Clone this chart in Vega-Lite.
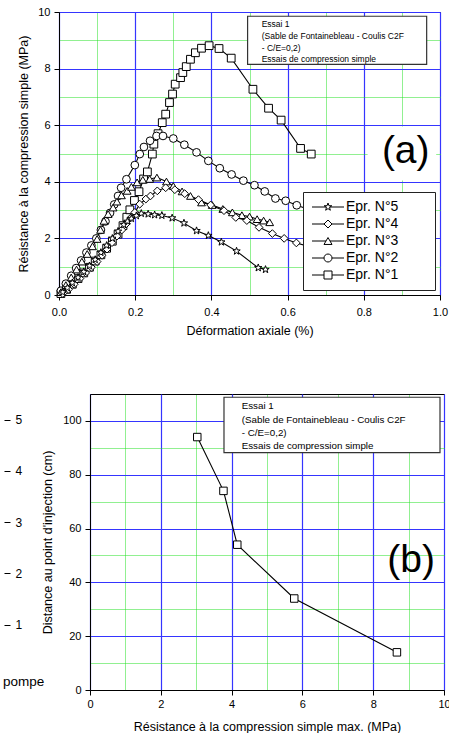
{
  "$schema": "https://vega.github.io/schema/vega-lite/v6.json",
  "background": "white",
  "padding": {"left": 0, "top": 5, "right": 0, "bottom": 0},
  "config": {
    "font": "Liberation Sans",
    "view": {"stroke": "black", "strokeWidth": 1},
    "axis": {
      "labelFont": "Liberation Sans", "titleFont": "Liberation Sans",
      "labelFontSize": 11, "titleFontSize": 12.5, "titleFontWeight": "normal",
      "labelColor": "black", "titleColor": "black", "domainColor": "black", "tickColor": "black",
      "labelFlush": false, "labelOverlap": false
    }
  },
  "datasets": {
    "courbes": [
      {"eprouvette": "Epr. N°1", "deformation": 0.005, "resistance": 0.05},
      {"eprouvette": "Epr. N°1", "deformation": 0.02, "resistance": 0.2},
      {"eprouvette": "Epr. N°1", "deformation": 0.035, "resistance": 0.38},
      {"eprouvette": "Epr. N°1", "deformation": 0.05, "resistance": 0.58},
      {"eprouvette": "Epr. N°1", "deformation": 0.065, "resistance": 0.78},
      {"eprouvette": "Epr. N°1", "deformation": 0.08, "resistance": 0.98},
      {"eprouvette": "Epr. N°1", "deformation": 0.095, "resistance": 1.2},
      {"eprouvette": "Epr. N°1", "deformation": 0.11, "resistance": 1.42},
      {"eprouvette": "Epr. N°1", "deformation": 0.125, "resistance": 1.65},
      {"eprouvette": "Epr. N°1", "deformation": 0.14, "resistance": 1.9},
      {"eprouvette": "Epr. N°1", "deformation": 0.155, "resistance": 2.15},
      {"eprouvette": "Epr. N°1", "deformation": 0.168, "resistance": 2.45},
      {"eprouvette": "Epr. N°1", "deformation": 0.178, "resistance": 2.75},
      {"eprouvette": "Epr. N°1", "deformation": 0.186, "resistance": 3.01},
      {"eprouvette": "Epr. N°1", "deformation": 0.198, "resistance": 3.34},
      {"eprouvette": "Epr. N°1", "deformation": 0.21, "resistance": 3.65},
      {"eprouvette": "Epr. N°1", "deformation": 0.222, "resistance": 4.1},
      {"eprouvette": "Epr. N°1", "deformation": 0.232, "resistance": 4.35},
      {"eprouvette": "Epr. N°1", "deformation": 0.245, "resistance": 4.98},
      {"eprouvette": "Epr. N°1", "deformation": 0.249, "resistance": 5.33},
      {"eprouvette": "Epr. N°1", "deformation": 0.26, "resistance": 5.7},
      {"eprouvette": "Epr. N°1", "deformation": 0.271, "resistance": 6.09},
      {"eprouvette": "Epr. N°1", "deformation": 0.28, "resistance": 6.39},
      {"eprouvette": "Epr. N°1", "deformation": 0.29, "resistance": 6.8},
      {"eprouvette": "Epr. N°1", "deformation": 0.298, "resistance": 7.1},
      {"eprouvette": "Epr. N°1", "deformation": 0.305, "resistance": 7.45},
      {"eprouvette": "Epr. N°1", "deformation": 0.319, "resistance": 7.68},
      {"eprouvette": "Epr. N°1", "deformation": 0.325, "resistance": 7.86},
      {"eprouvette": "Epr. N°1", "deformation": 0.334, "resistance": 8.07},
      {"eprouvette": "Epr. N°1", "deformation": 0.345, "resistance": 8.33},
      {"eprouvette": "Epr. N°1", "deformation": 0.358, "resistance": 8.56},
      {"eprouvette": "Epr. N°1", "deformation": 0.374, "resistance": 8.72},
      {"eprouvette": "Epr. N°1", "deformation": 0.394, "resistance": 8.81},
      {"eprouvette": "Epr. N°1", "deformation": 0.42, "resistance": 8.71},
      {"eprouvette": "Epr. N°1", "deformation": 0.452, "resistance": 8.37},
      {"eprouvette": "Epr. N°1", "deformation": 0.509, "resistance": 7.27},
      {"eprouvette": "Epr. N°1", "deformation": 0.55, "resistance": 6.6},
      {"eprouvette": "Epr. N°1", "deformation": 0.583, "resistance": 6.18},
      {"eprouvette": "Epr. N°1", "deformation": 0.634, "resistance": 5.18},
      {"eprouvette": "Epr. N°1", "deformation": 0.662, "resistance": 4.98},
      {"eprouvette": "Epr. N°2", "deformation": 0.005, "resistance": 0.15},
      {"eprouvette": "Epr. N°2", "deformation": 0.018, "resistance": 0.4},
      {"eprouvette": "Epr. N°2", "deformation": 0.032, "resistance": 0.68},
      {"eprouvette": "Epr. N°2", "deformation": 0.045, "resistance": 0.95},
      {"eprouvette": "Epr. N°2", "deformation": 0.058, "resistance": 1.22},
      {"eprouvette": "Epr. N°2", "deformation": 0.072, "resistance": 1.5},
      {"eprouvette": "Epr. N°2", "deformation": 0.085, "resistance": 1.75},
      {"eprouvette": "Epr. N°2", "deformation": 0.098, "resistance": 2.0},
      {"eprouvette": "Epr. N°2", "deformation": 0.11, "resistance": 2.3},
      {"eprouvette": "Epr. N°2", "deformation": 0.122, "resistance": 2.6},
      {"eprouvette": "Epr. N°2", "deformation": 0.134, "resistance": 2.9},
      {"eprouvette": "Epr. N°2", "deformation": 0.145, "resistance": 3.2},
      {"eprouvette": "Epr. N°2", "deformation": 0.155, "resistance": 3.5},
      {"eprouvette": "Epr. N°2", "deformation": 0.163, "resistance": 3.79},
      {"eprouvette": "Epr. N°2", "deformation": 0.177, "resistance": 4.09},
      {"eprouvette": "Epr. N°2", "deformation": 0.199, "resistance": 4.59},
      {"eprouvette": "Epr. N°2", "deformation": 0.212, "resistance": 4.98},
      {"eprouvette": "Epr. N°2", "deformation": 0.223, "resistance": 5.23},
      {"eprouvette": "Epr. N°2", "deformation": 0.239, "resistance": 5.45},
      {"eprouvette": "Epr. N°2", "deformation": 0.256, "resistance": 5.62},
      {"eprouvette": "Epr. N°2", "deformation": 0.273, "resistance": 5.62},
      {"eprouvette": "Epr. N°2", "deformation": 0.3, "resistance": 5.53},
      {"eprouvette": "Epr. N°2", "deformation": 0.329, "resistance": 5.31},
      {"eprouvette": "Epr. N°2", "deformation": 0.361, "resistance": 5.04},
      {"eprouvette": "Epr. N°2", "deformation": 0.392, "resistance": 4.74},
      {"eprouvette": "Epr. N°2", "deformation": 0.422, "resistance": 4.48},
      {"eprouvette": "Epr. N°2", "deformation": 0.453, "resistance": 4.26},
      {"eprouvette": "Epr. N°2", "deformation": 0.484, "resistance": 4.04},
      {"eprouvette": "Epr. N°2", "deformation": 0.513, "resistance": 3.88},
      {"eprouvette": "Epr. N°2", "deformation": 0.54, "resistance": 3.66},
      {"eprouvette": "Epr. N°2", "deformation": 0.568, "resistance": 3.41},
      {"eprouvette": "Epr. N°2", "deformation": 0.595, "resistance": 3.33},
      {"eprouvette": "Epr. N°2", "deformation": 0.624, "resistance": 3.17},
      {"eprouvette": "Epr. N°2", "deformation": 0.66, "resistance": 3.0},
      {"eprouvette": "Epr. N°3", "deformation": 0.005, "resistance": 0.1},
      {"eprouvette": "Epr. N°3", "deformation": 0.018, "resistance": 0.35},
      {"eprouvette": "Epr. N°3", "deformation": 0.032, "resistance": 0.62},
      {"eprouvette": "Epr. N°3", "deformation": 0.046, "resistance": 0.9},
      {"eprouvette": "Epr. N°3", "deformation": 0.06, "resistance": 1.18},
      {"eprouvette": "Epr. N°3", "deformation": 0.074, "resistance": 1.45},
      {"eprouvette": "Epr. N°3", "deformation": 0.088, "resistance": 1.72},
      {"eprouvette": "Epr. N°3", "deformation": 0.1, "resistance": 1.98},
      {"eprouvette": "Epr. N°3", "deformation": 0.109, "resistance": 2.3},
      {"eprouvette": "Epr. N°3", "deformation": 0.118, "resistance": 2.62},
      {"eprouvette": "Epr. N°3", "deformation": 0.129, "resistance": 2.86},
      {"eprouvette": "Epr. N°3", "deformation": 0.142, "resistance": 3.09},
      {"eprouvette": "Epr. N°3", "deformation": 0.152, "resistance": 3.3},
      {"eprouvette": "Epr. N°3", "deformation": 0.164, "resistance": 3.52},
      {"eprouvette": "Epr. N°3", "deformation": 0.179, "resistance": 3.68},
      {"eprouvette": "Epr. N°3", "deformation": 0.19, "resistance": 3.82},
      {"eprouvette": "Epr. N°3", "deformation": 0.205, "resistance": 3.98},
      {"eprouvette": "Epr. N°3", "deformation": 0.22, "resistance": 4.07},
      {"eprouvette": "Epr. N°3", "deformation": 0.238, "resistance": 4.1},
      {"eprouvette": "Epr. N°3", "deformation": 0.257, "resistance": 4.15},
      {"eprouvette": "Epr. N°3", "deformation": 0.282, "resistance": 4.01},
      {"eprouvette": "Epr. N°3", "deformation": 0.3, "resistance": 3.85},
      {"eprouvette": "Epr. N°3", "deformation": 0.323, "resistance": 3.66},
      {"eprouvette": "Epr. N°3", "deformation": 0.345, "resistance": 3.5},
      {"eprouvette": "Epr. N°3", "deformation": 0.374, "resistance": 3.27},
      {"eprouvette": "Epr. N°3", "deformation": 0.402, "resistance": 3.18},
      {"eprouvette": "Epr. N°3", "deformation": 0.43, "resistance": 3.04},
      {"eprouvette": "Epr. N°3", "deformation": 0.455, "resistance": 2.92},
      {"eprouvette": "Epr. N°3", "deformation": 0.48, "resistance": 2.82},
      {"eprouvette": "Epr. N°3", "deformation": 0.5, "resistance": 2.77},
      {"eprouvette": "Epr. N°3", "deformation": 0.52, "resistance": 2.68},
      {"eprouvette": "Epr. N°3", "deformation": 0.537, "resistance": 2.63},
      {"eprouvette": "Epr. N°3", "deformation": 0.553, "resistance": 2.57},
      {"eprouvette": "Epr. N°4", "deformation": 0.01, "resistance": 0.05},
      {"eprouvette": "Epr. N°4", "deformation": 0.025, "resistance": 0.2},
      {"eprouvette": "Epr. N°4", "deformation": 0.04, "resistance": 0.38},
      {"eprouvette": "Epr. N°4", "deformation": 0.055, "resistance": 0.58},
      {"eprouvette": "Epr. N°4", "deformation": 0.07, "resistance": 0.78},
      {"eprouvette": "Epr. N°4", "deformation": 0.085, "resistance": 0.98},
      {"eprouvette": "Epr. N°4", "deformation": 0.1, "resistance": 1.18},
      {"eprouvette": "Epr. N°4", "deformation": 0.113, "resistance": 1.4},
      {"eprouvette": "Epr. N°4", "deformation": 0.126, "resistance": 1.62},
      {"eprouvette": "Epr. N°4", "deformation": 0.139, "resistance": 1.85},
      {"eprouvette": "Epr. N°4", "deformation": 0.152, "resistance": 2.08},
      {"eprouvette": "Epr. N°4", "deformation": 0.165, "resistance": 2.3},
      {"eprouvette": "Epr. N°4", "deformation": 0.177, "resistance": 2.52},
      {"eprouvette": "Epr. N°4", "deformation": 0.188, "resistance": 2.72},
      {"eprouvette": "Epr. N°4", "deformation": 0.199, "resistance": 2.92},
      {"eprouvette": "Epr. N°4", "deformation": 0.212, "resistance": 3.21},
      {"eprouvette": "Epr. N°4", "deformation": 0.228, "resistance": 3.39},
      {"eprouvette": "Epr. N°4", "deformation": 0.24, "resistance": 3.5},
      {"eprouvette": "Epr. N°4", "deformation": 0.258, "resistance": 3.68},
      {"eprouvette": "Epr. N°4", "deformation": 0.28, "resistance": 3.79},
      {"eprouvette": "Epr. N°4", "deformation": 0.304, "resistance": 3.72},
      {"eprouvette": "Epr. N°4", "deformation": 0.33, "resistance": 3.58},
      {"eprouvette": "Epr. N°4", "deformation": 0.366, "resistance": 3.37},
      {"eprouvette": "Epr. N°4", "deformation": 0.398, "resistance": 3.18},
      {"eprouvette": "Epr. N°4", "deformation": 0.433, "resistance": 2.98},
      {"eprouvette": "Epr. N°4", "deformation": 0.464, "resistance": 2.74},
      {"eprouvette": "Epr. N°4", "deformation": 0.493, "resistance": 2.63},
      {"eprouvette": "Epr. N°4", "deformation": 0.525, "resistance": 2.39},
      {"eprouvette": "Epr. N°4", "deformation": 0.56, "resistance": 2.17},
      {"eprouvette": "Epr. N°4", "deformation": 0.591, "resistance": 2.0},
      {"eprouvette": "Epr. N°4", "deformation": 0.623, "resistance": 1.84},
      {"eprouvette": "Epr. N°4", "deformation": 0.66, "resistance": 1.7},
      {"eprouvette": "Epr. N°5", "deformation": 0.01, "resistance": 0.1},
      {"eprouvette": "Epr. N°5", "deformation": 0.022, "resistance": 0.25},
      {"eprouvette": "Epr. N°5", "deformation": 0.035, "resistance": 0.43},
      {"eprouvette": "Epr. N°5", "deformation": 0.05, "resistance": 0.62},
      {"eprouvette": "Epr. N°5", "deformation": 0.065, "resistance": 0.82},
      {"eprouvette": "Epr. N°5", "deformation": 0.08, "resistance": 1.03},
      {"eprouvette": "Epr. N°5", "deformation": 0.095, "resistance": 1.25},
      {"eprouvette": "Epr. N°5", "deformation": 0.11, "resistance": 1.5},
      {"eprouvette": "Epr. N°5", "deformation": 0.125, "resistance": 1.75},
      {"eprouvette": "Epr. N°5", "deformation": 0.14, "resistance": 2.0},
      {"eprouvette": "Epr. N°5", "deformation": 0.155, "resistance": 2.25},
      {"eprouvette": "Epr. N°5", "deformation": 0.17, "resistance": 2.48},
      {"eprouvette": "Epr. N°5", "deformation": 0.18, "resistance": 2.6},
      {"eprouvette": "Epr. N°5", "deformation": 0.19, "resistance": 2.7},
      {"eprouvette": "Epr. N°5", "deformation": 0.203, "resistance": 2.8},
      {"eprouvette": "Epr. N°5", "deformation": 0.216, "resistance": 2.88},
      {"eprouvette": "Epr. N°5", "deformation": 0.234, "resistance": 2.86},
      {"eprouvette": "Epr. N°5", "deformation": 0.251, "resistance": 2.83},
      {"eprouvette": "Epr. N°5", "deformation": 0.27, "resistance": 2.81},
      {"eprouvette": "Epr. N°5", "deformation": 0.297, "resistance": 2.72},
      {"eprouvette": "Epr. N°5", "deformation": 0.328, "resistance": 2.54},
      {"eprouvette": "Epr. N°5", "deformation": 0.361, "resistance": 2.27},
      {"eprouvette": "Epr. N°5", "deformation": 0.392, "resistance": 2.1},
      {"eprouvette": "Epr. N°5", "deformation": 0.426, "resistance": 1.87},
      {"eprouvette": "Epr. N°5", "deformation": 0.466, "resistance": 1.55},
      {"eprouvette": "Epr. N°5", "deformation": 0.523, "resistance": 0.96},
      {"eprouvette": "Epr. N°5", "deformation": 0.542, "resistance": 0.9}
    ],
    "maxima": [
      {"resistance_max": 3.03, "distance": 94},
      {"resistance_max": 3.77, "distance": 74},
      {"resistance_max": 4.16, "distance": 54},
      {"resistance_max": 5.77, "distance": 34},
      {"resistance_max": 8.67, "distance": 14}
    ],
    "pompe": [
      {"niveau": 1}, {"niveau": 2}, {"niveau": 3}, {"niveau": 4}, {"niveau": 5}
    ]
  },
  "spacing": 56,
  "resolve": {"scale": {"shape": "independent"}, "legend": {"shape": "independent"}},
  "vconcat": [
    {
      "spacing": 0,
      "resolve": {"scale": {"shape": "independent"}, "legend": {"shape": "independent"}},
      "hconcat": [
        {
          "width": 14,
          "height": 283,
          "view": {"stroke": null, "fill": "white"},
          "data": {"values": [{"vide": 0}]},
          "mark": {"type": "point", "opacity": 0},
          "encoding": {}
        },
        {
          "width": 381,
          "height": 283,
          "resolve": {"axis": {"x": "independent", "y": "independent"}, "scale": {"shape": "independent"}, "legend": {"shape": "independent"}},
          "layer": [
            {
              "data": {"name": "courbes"},
              "mark": {"type": "line", "color": "black", "strokeWidth": 1.1},
              "encoding": {
                "x": {"field": "deformation", "type": "quantitative", "scale": {"domain": [0, 1]},
                  "axis": {"values": [0, 0.2, 0.4, 0.6, 0.8, 1], "format": ".1f", "grid": true, "gridColor": "#3535ff", "gridWidth": 1.2,
                    "tickSize": 5, "labelPadding": 6, "title": "Déformation axiale (%)", "titlePadding": 7}},
                "y": {"field": "resistance", "type": "quantitative", "scale": {"domain": [0, 10]},
                  "axis": {"values": [0, 2, 4, 6, 8, 10], "grid": true, "gridColor": "#3535ff", "gridWidth": 1.2,
                    "tickSize": 5, "labelPadding": 4, "title": "Résistance à la compression simple (MPa)", "titlePadding": 7}},
                "detail": {"field": "eprouvette", "type": "nominal"}
              }
            },
            {
              "data": {"name": "courbes"},
              "mark": {"type": "point", "filled": true, "fill": "white", "stroke": "black", "strokeWidth": 1, "size": 60, "opacity": 1},
              "encoding": {
                "x": {"field": "deformation", "type": "quantitative",
                  "axis": {"orient": "top", "values": [0.1, 0.3, 0.5, 0.7, 0.9], "grid": true, "gridColor": "#22e022", "gridDash": [1, 1], "gridWidth": 1,
                    "labels": false, "ticks": false, "domain": false, "title": null}},
                "y": {"field": "resistance", "type": "quantitative",
                  "axis": {"orient": "right", "values": [1, 3, 5, 7, 9], "grid": true, "gridColor": "#22e022", "gridDash": [1, 1], "gridWidth": 1,
                    "labels": false, "ticks": false, "domain": false, "title": null}},
                "shape": {"field": "eprouvette", "type": "nominal",
                  "scale": {"domain": ["Epr. N°5", "Epr. N°4", "Epr. N°3", "Epr. N°2", "Epr. N°1"],
                    "range": ["M0,-1L0.235,-0.324L0.951,-0.309L0.38,0.124L0.588,0.809L0,0.4L-0.588,0.809L-0.38,0.124L-0.951,-0.309L-0.235,-0.324Z", "diamond", "triangle-up", "circle", "square"]},
                  "legend": null}
              }
            },
            {
              "data": {"values": [{"objet": "cadre"}]},
              "mark": {"type": "rect", "fill": "white", "stroke": "#333", "strokeWidth": 1.2},
              "encoding": {
                "x": {"datum": 0.495, "axis": null}, "x2": {"datum": 0.965},
                "y": {"datum": 9.85, "axis": null}, "y2": {"datum": 8.15}
              }
            },
            {
              "data": {"values": [{"objet": "note"}]},
              "mark": {"type": "text", "text": ["Essai 1", "(Sable de Fontainebleau - Coulis C2F", "- C/E=0,2)", "Essais de compression simple"],
                "align": "left", "baseline": "middle", "fontSize": 8.5, "lineHeight": 11.7, "color": "black"},
              "encoding": {
                "x": {"datum": 0.532, "axis": null},
                "y": {"datum": 9.566, "axis": null}
              }
            },
            {
              "data": {"values": [{"objet": "fond"}]},
              "mark": {"type": "rect", "fill": "white"},
              "encoding": {
                "x": {"datum": 0.81, "axis": null}, "x2": {"datum": 0.99},
                "y": {"datum": 4.05, "axis": null}, "y2": {"datum": 5.95}
              }
            },
            {
              "data": {"values": [{"objet": "repere"}]},
              "mark": {"type": "text", "text": "(a)", "align": "center", "baseline": "middle", "fontSize": 39, "color": "black"},
              "encoding": {
                "x": {"datum": 0.91, "axis": null},
                "y": {"datum": 5.08, "axis": null}
              }
            },
            {
              "data": {"values": []},
              "mark": {"type": "point", "filled": false, "color": "black", "strokeWidth": 1},
              "encoding": {
                "shape": {"field": "eprouvette", "type": "nominal",
                  "scale": {"domain": ["Epr. N°5", "Epr. N°4", "Epr. N°3", "Epr. N°2", "Epr. N°1"],
                    "range": [
                      "M-4,0L-0.4,0M0.4,0L4,0M0,-1L0.235,-0.324L0.951,-0.309L0.38,0.124L0.588,0.809L0,0.4L-0.588,0.809L-0.38,0.124L-0.951,-0.309L-0.235,-0.324Z",
                      "M-4,0L-1,0M1,0L4,0M-1,0L0,-1L1,0L0,1Z",
                      "M-4,0L-0.5,0M0.5,0L4,0M0,-0.866L1,0.866L-1,0.866Z",
                      "M-4,0L-1,0M1,0L4,0M1,0A1,1,0,1,1,-1,0A1,1,0,1,1,1,0Z",
                      "M-4,0L-1,0M1,0L4,0M-1,-1L1,-1L1,1L-1,1Z"
                    ]},
                  "legend": {
                    "title": "MMM", "titleOrient": "right", "titleColor": "transparent", "titleFontSize": 10, "titlePadding": 4,
                    "orient": "bottom-right", "offset": 5,
                    "fillColor": "white", "strokeColor": "#222", "padding": 8,
                    "labelFontSize": 14, "labelFont": "Liberation Sans", "labelColor": "black",
                    "rowPadding": 3, "symbolSize": 64, "symbolStrokeWidth": 1, "symbolOpacity": 1,
                    "symbolStrokeColor": "black",
                    "symbolOffset": 10, "labelOffset": 11
                  }}
              }
            }
          ]
        }
      ]
    },
    {
      "spacing": -4,
      "resolve": {"scale": {"shape": "independent"}, "legend": {"shape": "independent"}},
      "hconcat": [
        {
          "width": 1,
          "height": 282,
          "view": {"stroke": null},
          "layer": [
            {
              "data": {"name": "pompe"},
              "mark": {"type": "point", "opacity": 0},
              "encoding": {
                "x": {"datum": 0.5, "scale": {"domain": [0, 1]}, "axis": null},
                "y": {"field": "niveau", "type": "quantitative", "scale": {"domain": [0, 5.45]},
                  "axis": {"orient": "right", "values": [-0.27, 1, 2, 3, 4, 5], "format": "d", "labelExpr": "datum.value < 0 ? '' : datum.label",
                    "domain": false, "grid": false, "tickSize": 6, "labelPadding": 5, "labelFontSize": 12, "title": null}}
              }
            },
            {
              "data": {"values": [{"legende": "pompe"}]},
              "mark": {"type": "text", "align": "left", "baseline": "alphabetic", "fontSize": 13.5, "color": "black"},
              "encoding": {
                "text": {"field": "legende"},
                "x": {"datum": 0},
                "y": {"datum": -0.19}
              }
            }
          ]
        },
        {
          "width": 354,
          "height": 296,
          "resolve": {"axis": {"x": "independent", "y": "independent"}},
          "layer": [
            {
              "data": {"name": "maxima"},
              "mark": {"type": "line", "color": "black", "strokeWidth": 1.1},
              "encoding": {
                "x": {"field": "resistance_max", "type": "quantitative", "scale": {"domain": [0, 10]},
                  "axis": {"values": [0, 2, 4, 6, 8, 10], "format": "d", "grid": true, "gridColor": "#3535ff", "gridWidth": 1.2,
                    "tickSize": 5, "labelPadding": 3, "title": "Résistance à la compression simple max. (MPa)", "titlePadding": 11}},
                "y": {"field": "distance", "type": "quantitative", "scale": {"domain": [0, 110]},
                  "axis": {"values": [0, 20, 40, 60, 80, 100], "grid": true, "gridColor": "#3535ff", "gridWidth": 1.2,
                    "tickSize": 5, "labelPadding": 4, "title": "Distance au point d'injection (cm)", "titlePadding": 8}}
              }
            },
            {
              "data": {"name": "maxima"},
              "mark": {"type": "point", "shape": "square", "filled": true, "fill": "white", "stroke": "black", "strokeWidth": 1, "size": 56, "opacity": 1},
              "encoding": {
                "x": {"field": "resistance_max", "type": "quantitative",
                  "axis": {"orient": "top", "values": [1, 3, 5, 7, 9], "grid": true, "gridColor": "#22e022", "gridDash": [1, 1], "gridWidth": 1,
                    "labels": false, "ticks": false, "domain": false, "title": null}},
                "y": {"field": "distance", "type": "quantitative",
                  "axis": {"orient": "right", "values": [10, 30, 50, 70, 90], "grid": true, "gridColor": "#22e022", "gridDash": [1, 1], "gridWidth": 1,
                    "labels": false, "ticks": false, "domain": false, "title": null}}
              }
            },
            {
              "data": {"values": [{"objet": "cadre"}]},
              "mark": {"type": "rect", "fill": "white", "stroke": "#333", "strokeWidth": 1.2},
              "encoding": {
                "x": {"datum": 3.785, "axis": null}, "x2": {"datum": 9.887},
                "y": {"datum": 108.8, "axis": null}, "y2": {"datum": 88.2}
              }
            },
            {
              "data": {"values": [{"objet": "note"}]},
              "mark": {"type": "text", "text": ["Essai 1", "(Sable de Fontainebleau - Coulis C2F", "- C/E=0,2)", "Essais de compression simple"],
                "align": "left", "baseline": "middle", "fontSize": 9.8, "lineHeight": 13.3, "color": "black"},
              "encoding": {
                "x": {"datum": 4.285, "axis": null},
                "y": {"datum": 105.4, "axis": null}
              }
            },
            {
              "data": {"values": [{"objet": "repere"}]},
              "mark": {"type": "text", "text": "(b)", "align": "center", "baseline": "middle", "fontSize": 39, "color": "black"},
              "encoding": {
                "x": {"datum": 9.07, "axis": null},
                "y": {"datum": 48.4, "axis": null}
              }
            }
          ]
        }
      ]
    }
  ]
}
